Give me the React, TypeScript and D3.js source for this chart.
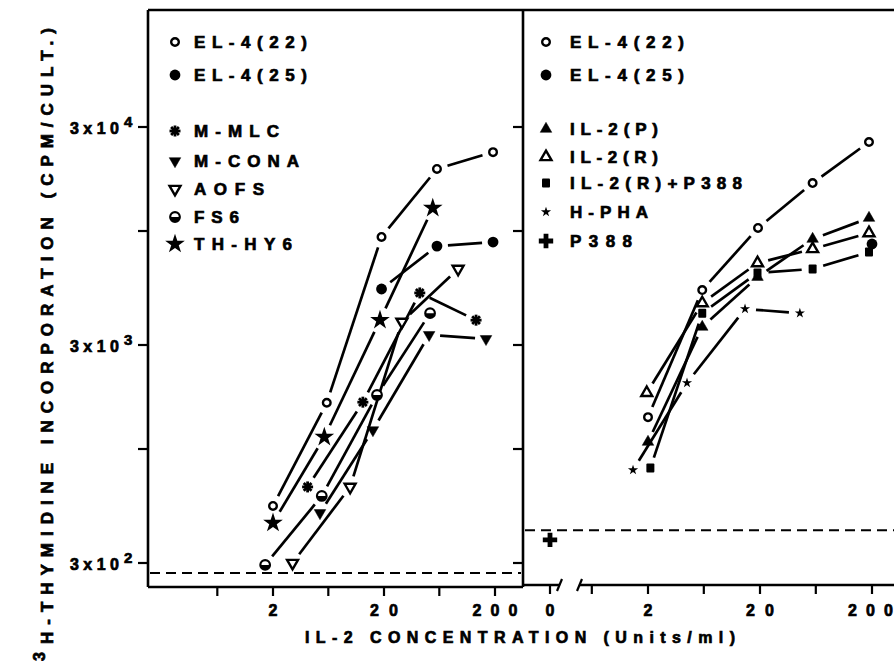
import React, { useEffect, useRef } from 'react';
import * as d3 from 'd3';

// ---- data (IL-2 units/ml vs 3H-thymidine cpm/culture) ----
// left panel
const el422LeftConc = [2, 6.1, 19, 60, 192];
const el422LeftCpm = [548, 1630, 9390, 19260, 23000];
const el425LeftConc = [19, 60, 192];
const el425LeftCpm = [5420, 8530, 8900];
const mMlcConc = [4.1, 12.9, 42, 135];
const mMlcCpm = [670, 1640, 5200, 3900];
const mConaConc = [5.3, 15.9, 51, 166];
const mConaCpm = [509, 1222, 3340, 3200];
const aofsConc = [3.0, 9.9, 29, 93];
const aofsCpm = [300, 670, 3830, 6700];
const fs6Conc = [1.7, 5.5, 17.3, 52];
const fs6Cpm = [294, 609, 1770, 4200];
const thHy6Conc = [2, 5.8, 18.4, 55];
const thHy6Cpm = [458, 1135, 3900, 12750];
const leftBackground = 270;

// right panel
const el422RightConc = [2, 6.1, 19.2, 59, 188];
const el422RightCpm = [1400, 5360, 10330, 16600, 25600];
const el425RightConc = [200];
const el425RightCpm = [8720];
const il2PConc = [2, 6.1, 19, 59, 188];
const il2PCpm = [1077, 3630, 6150, 9190, 11470];
const il2RConc = [1.95, 6.1, 19, 59, 188];
const il2RCpm = [1810, 4670, 7130, 8270, 9790];
const il2RP388Conc = [2.1, 6.1, 19, 59, 188];
const il2RP388Cpm = [818, 4200, 6420, 6700, 8010];
const hPhaConc = [1.47, 4.46, 14.7, 45.4];
const hPhaCpm = [801, 2010, 4390, 4200];
const p388Cpm = [383];
const rightBackground = 424;

// axes
const yTickValues = [300, 1000, 3000, 10000, 30000];
const yLabelValues = [300, 3000, 30000];
const yLabelExponents = ['2', '3', '4'];
const xTickValues = [0.63, 2, 6.3, 20, 63, 200];
const xLabelValues = [2, 20, 200];

const leftLegend = ['EL-4(22)', 'EL-4(25)', 'M-MLC', 'M-CONA', 'AOFS', 'FS6', 'TH-HY6'];
const leftLegendMarkers = ['circleOpen', 'circleFilled', 'asterisk', 'triDown', 'triDownOpen', 'halfCircle', 'starBig'];
const rightLegend = ['EL-4(22)', 'EL-4(25)', 'IL-2(P)', 'IL-2(R)', 'IL-2(R)+P388', 'H-PHA', 'P388'];
const rightLegendMarkers = ['circleOpen', 'circleFilled', 'triUp', 'triUpOpen', 'square', 'starSmall', 'cross'];

const FONT = '"Liberation Sans", Arial, Helvetica, sans-serif';

function drawMarker(g: any, kind: string, cx: number, cy: number) {
  const m = g.append('g').attr('transform', `translate(${cx},${cy})`);
  if (kind === 'circleOpen') {
    m.append('circle').attr('r', 3.8).attr('fill', '#fff').attr('stroke', '#000').attr('stroke-width', 2.4);
  } else if (kind === 'circleFilled') {
    m.append('circle').attr('r', 5.4).attr('fill', '#000');
  } else if (kind === 'asterisk') {
    [0, 45, 90, 135].forEach(a => {
      m.append('line').attr('x1', -5.5).attr('x2', 5.5).attr('y1', 0).attr('y2', 0)
        .attr('transform', `rotate(${a})`).attr('stroke', '#000').attr('stroke-width', 2.8);
    });
  } else if (kind === 'triDown' || kind === 'triDownOpen') {
    const open = kind === 'triDownOpen';
    m.append('path').attr('d', d3.symbol(d3.symbolTriangle, open ? 52 : 58)())
      .attr('transform', 'rotate(180)')
      .attr('fill', open ? '#fff' : '#000').attr('stroke', '#000').attr('stroke-width', open ? 2.4 : 0.5);
  } else if (kind === 'triUp' || kind === 'triUpOpen') {
    const open = kind === 'triUpOpen';
    m.append('path').attr('d', d3.symbol(d3.symbolTriangle, open ? 52 : 58)())
      .attr('fill', open ? '#fff' : '#000').attr('stroke', '#000').attr('stroke-width', open ? 2.4 : 0.5);
  } else if (kind === 'halfCircle') {
    const r = 4.8;
    m.append('circle').attr('r', r).attr('fill', '#fff').attr('stroke', '#000').attr('stroke-width', 2.2);
    m.append('path').attr('d', `M${-r},0 A${r},${r} 0 0 0 ${r},0 Z`).attr('fill', '#000');
  } else if (kind === 'starBig') {
    m.append('path').attr('d', d3.symbol(d3.symbolStar, 120)()).attr('fill', '#000');
  } else if (kind === 'starSmall') {
    m.append('path').attr('d', d3.symbol(d3.symbolStar, 32)()).attr('fill', '#000');
  } else if (kind === 'square') {
    m.append('rect').attr('x', -4).attr('y', -4.5).attr('width', 8).attr('height', 9).attr('rx', 1).attr('fill', '#000');
  } else if (kind === 'cross') {
    m.append('path').attr('d', d3.symbol(d3.symbolCross, 115)()).attr('fill', '#000');
  }
}

export default function App() {
  const svgRef = useRef<SVGSVGElement>(null);

  useEffect(() => {
    if (!svgRef.current) return;
    const svg = d3.select(svgRef.current);
    svg.selectAll('*').remove();

    // frame geometry
    const leftX0 = 148, midX = 523, rightX1 = 894, top = 10;
    const leftBottom = 587, rightBottom = 585;

    const y = d3.scaleLog().domain([300, 30000]).range([563, 127]);
    const xL = d3.scaleLog().domain([2, 200]).range([273, 495]);
    const xR = d3.scaleLog().domain([2, 200]).range([648, 872]);
    const xZero = d3.scalePoint<string>().domain(['0']).range([540, 560]);

    const ink = '#000';

    // heavy lettering, like the original typewriter-style labels
    const label = (sel: any, size: number) =>
      sel.attr('font-family', FONT).attr('font-weight', 'bold').attr('font-size', size)
        .attr('fill', ink).attr('stroke', ink).attr('stroke-width', 0.7);

    // frame
    svg.append('line').attr('x1', leftX0).attr('x2', rightX1).attr('y1', top).attr('y2', top)
      .attr('stroke', ink).attr('stroke-width', 2.6);
    svg.append('line').attr('x1', leftX0).attr('x2', leftX0).attr('y1', top).attr('y2', leftBottom)
      .attr('stroke', ink).attr('stroke-width', 2.6);
    svg.append('line').attr('x1', midX).attr('x2', midX).attr('y1', top).attr('y2', leftBottom)
      .attr('stroke', ink).attr('stroke-width', 2.6);
    svg.append('line').attr('x1', leftX0).attr('x2', midX).attr('y1', leftBottom).attr('y2', leftBottom)
      .attr('stroke', ink).attr('stroke-width', 2.6);
    // right bottom axis with break
    svg.append('line').attr('x1', midX).attr('x2', 559).attr('y1', rightBottom).attr('y2', rightBottom)
      .attr('stroke', ink).attr('stroke-width', 2.6);
    svg.append('line').attr('x1', 580).attr('x2', rightX1).attr('y1', rightBottom).attr('y2', rightBottom)
      .attr('stroke', ink).attr('stroke-width', 2.6);
    [559, 579].forEach(bx => {
      svg.append('line').attr('x1', bx - 2).attr('x2', bx + 3).attr('y1', rightBottom + 6).attr('y2', rightBottom - 6)
        .attr('stroke', ink).attr('stroke-width', 2.2);
    });

    // y ticks (outer left axis and inner middle axis)
    yTickValues.forEach(v => {
      svg.append('line').attr('x1', leftX0 - 10).attr('x2', leftX0).attr('y1', y(v)).attr('y2', y(v))
        .attr('stroke', ink).attr('stroke-width', 2.2);
      svg.append('line').attr('x1', midX - 10).attr('x2', midX).attr('y1', y(v)).attr('y2', y(v))
        .attr('stroke', ink).attr('stroke-width', 2.2);
    });
    yLabelValues.forEach((v, i) => {
      label(svg.append('text'), 16).attr('x', 70).attr('y', y(v) + 7)
        .attr('textLength', 49).attr('lengthAdjust', 'spacing').text('3x10');
      label(svg.append('text'), 15).attr('x', 124).attr('y', y(v) + 0).text(yLabelExponents[i]);
    });

    // x ticks
    xTickValues.forEach(v => {
      svg.append('line').attr('x1', xL(v)).attr('x2', xL(v)).attr('y1', leftBottom).attr('y2', leftBottom + 9)
        .attr('stroke', ink).attr('stroke-width', 2.2);
      svg.append('line').attr('x1', xR(v)).attr('x2', xR(v)).attr('y1', rightBottom).attr('y2', rightBottom + 9)
        .attr('stroke', ink).attr('stroke-width', 2.2);
    });
    svg.append('line').attr('x1', xZero('0')!).attr('x2', xZero('0')!).attr('y1', rightBottom).attr('y2', rightBottom + 9)
      .attr('stroke', ink).attr('stroke-width', 2.2);

    const tickLabel = (x: number, s: string, anchor = 'middle') => {
      const t = label(svg.append('text'), 16).attr('x', x).attr('y', 616).attr('text-anchor', anchor);
      if (s.length > 1) t.attr('textLength', s.length === 2 ? 28 : 45).attr('lengthAdjust', 'spacing');
      t.text(s);
    };
    xLabelValues.forEach(v => {
      tickLabel(xL(v), String(v));
      if (v === 200) tickLabel(893, String(v), 'end');
      else tickLabel(xR(v), String(v));
    });
    tickLabel(xZero('0')!, '0');

    // axis titles
    label(svg.append('text'), 16).attr('x', 305).attr('y', 643)
      .attr('textLength', 430).attr('lengthAdjust', 'spacing')
      .text('IL-2 CONCENTRATION (Units/ml)');
    label(svg.append('text'), 17).attr('transform', 'translate(53,644) rotate(-90)')
      .attr('textLength', 616).attr('lengthAdjust', 'spacing')
      .text('H-THYMIDINE INCORPORATION (CPM/CULT.)');
    label(svg.append('text'), 16).attr('transform', 'translate(45,661) rotate(-90)')
      .text('3');

    // background dashed lines
    svg.append('line').attr('x1', leftX0 + 2).attr('x2', midX - 2)
      .attr('y1', y(leftBackground)).attr('y2', y(leftBackground))
      .attr('stroke', ink).attr('stroke-width', 2.2).attr('stroke-dasharray', '10 6');
    svg.append('line').attr('x1', midX + 2).attr('x2', rightX1)
      .attr('y1', y(rightBackground)).attr('y2', y(rightBackground))
      .attr('stroke', ink).attr('stroke-width', 2.2).attr('stroke-dasharray', '10 6');

    // series
    const leftSeries = [
      { marker: 'circleOpen', conc: el422LeftConc, cpm: el422LeftCpm },
      { marker: 'circleFilled', conc: el425LeftConc, cpm: el425LeftCpm },
      { marker: 'asterisk', conc: mMlcConc, cpm: mMlcCpm },
      { marker: 'triDown', conc: mConaConc, cpm: mConaCpm },
      { marker: 'triDownOpen', conc: aofsConc, cpm: aofsCpm },
      { marker: 'halfCircle', conc: fs6Conc, cpm: fs6Cpm },
      { marker: 'starBig', conc: thHy6Conc, cpm: thHy6Cpm },
    ];
    const rightSeries = [
      { marker: 'circleOpen', conc: el422RightConc, cpm: el422RightCpm },
      { marker: 'triUp', conc: il2PConc, cpm: il2PCpm },
      { marker: 'triUpOpen', conc: il2RConc, cpm: il2RCpm },
      { marker: 'square', conc: il2RP388Conc, cpm: il2RP388Cpm },
      { marker: 'starSmall', conc: hPhaConc, cpm: hPhaCpm },
      { marker: 'circleFilled', conc: el425RightConc, cpm: el425RightCpm },
    ];

    const lines = svg.append('g');
    const marks = svg.append('g');

    const drawSeries = (series: any[], xs: any) => {
      series.forEach(s => {
        const pts = s.conc.map((c: number, i: number) => [xs(c), y(s.cpm[i])]);
        const trim = s.marker === 'starBig' ? 13 : 11;
        for (let i = 1; i < pts.length; i++) {
          const [x1, y1] = pts[i - 1];
          const [x2, y2] = pts[i];
          const len = Math.hypot(x2 - x1, y2 - y1);
          if (len <= trim * 2) continue;
          const ux = (x2 - x1) / len, uy = (y2 - y1) / len;
          lines.append('line')
            .attr('x1', x1 + ux * trim).attr('y1', y1 + uy * trim)
            .attr('x2', x2 - ux * trim).attr('y2', y2 - uy * trim)
            .attr('stroke', ink).attr('stroke-width', 2.7);
        }
        pts.forEach(([px, py]: number[]) => drawMarker(marks, s.marker, px, py));
      });
    };
    drawSeries(leftSeries, xL);
    drawSeries(rightSeries, xR);
    p388Cpm.forEach(v => drawMarker(marks, 'cross', xZero('0')!, y(v)));

    // legends
    const leftLegendY = [42, 75, 131, 161, 189, 217, 244];
    const leftLegendLen = [113, 113, 85, 105, 70, 45, 98];
    leftLegend.forEach((lab, i) => {
      drawMarker(svg, leftLegendMarkers[i], 175, leftLegendY[i]);
      label(svg.append('text'), 17).attr('x', 194).attr('y', leftLegendY[i] + 6)
        .attr('textLength', leftLegendLen[i]).attr('lengthAdjust', 'spacing').text(lab);
    });
    const rightLegendY = [42, 75, 129, 157, 183, 212, 241];
    const rightLegendLen = [114, 114, 88, 88, 172, 78, 62];
    rightLegend.forEach((lab, i) => {
      drawMarker(svg, rightLegendMarkers[i], 546, rightLegendY[i]);
      label(svg.append('text'), 17).attr('x', 570).attr('y', rightLegendY[i] + 6)
        .attr('textLength', rightLegendLen[i]).attr('lengthAdjust', 'spacing').text(lab);
    });
  }, []);

  return (
    <svg
      ref={svgRef}
      width={894}
      height={663}
      style={{ position: 'absolute', left: 0, top: 0, background: '#fff' }}
    />
  );
}
